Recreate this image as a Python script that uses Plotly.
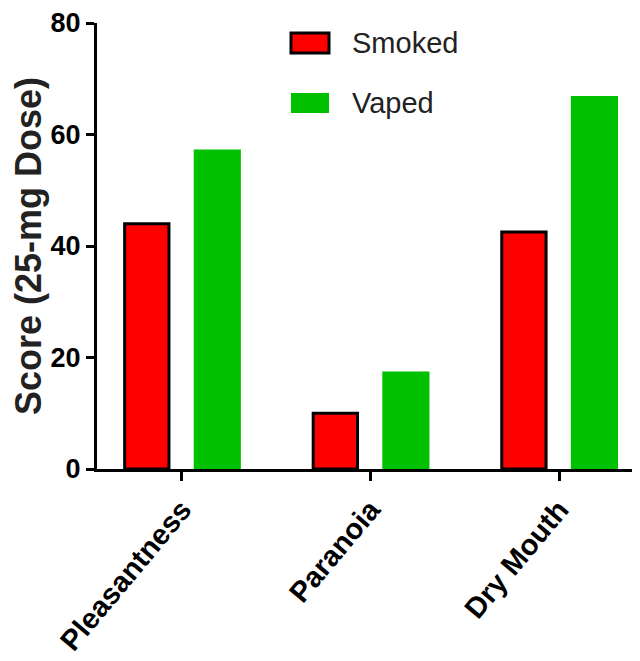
import plotly.graph_objects as go

categories = ["Pleasantness", "Paranoia", "Dry Mouth"]
smoked = [44.0, 10.0, 42.5]
vaped = [57.3, 17.5, 66.9]
y_ticks = [0, 20, 40, 60, 80]
series_names = ["Smoked", "Vaped"]

RED = "#ff0000"
GREEN = "#00c000"
FONT = "Liberation Sans, Arial, sans-serif"

# page body adds an 8px offset; plot area on screen: x 97..648, y 23..469
L, T, B = 89, 15, 200
PW = 640 - L
PH = 661 - T - B

def px(sx):
    return (sx - (L + 8)) / PW

def py(sy):
    return ((T + 8 + PH) - sy) / PH

fig = go.Figure()
fig.add_trace(go.Bar(
    x=categories, y=smoked, name=series_names[0],
    marker=dict(color=RED, line=dict(color="black", width=3)),
    width=0.235, offset=-0.3035, showlegend=False,
))
fig.add_trace(go.Bar(
    x=categories, y=vaped, name=series_names[1],
    marker=dict(color=GREEN, line=dict(color=GREEN, width=0)),
    width=0.25, offset=0.063, showlegend=False,
))

# manual legend (markers + labels)
legend_rows = [(series_names[0], RED, "black", 43), (series_names[1], GREEN, GREEN, 103)]
for name, fill, edge, yc in legend_rows:
    fig.add_shape(type="rect", xref="paper", yref="paper",
                  x0=px(291), x1=px(329),
                  y0=py(yc + 10), y1=py(yc - 10),
                  fillcolor=fill, line=dict(color=edge, width=3 if edge == "black" else 0))
    fig.add_annotation(text=name, xref="paper", yref="paper",
                       x=px(350), y=py(yc),
                       xanchor="left", yanchor="middle", showarrow=False,
                       font=dict(family=FONT, size=29, color="#222"))

fig.update_layout(
    width=640, height=661,
    margin=dict(l=L, r=0, t=T, b=B),
    plot_bgcolor="white", paper_bgcolor="white",
    barmode="overlay",
    font=dict(family=FONT, color="black"),
)
fig.update_xaxes(
    range=[-0.45, 2.472], showline=True, linecolor="black", linewidth=3,
    ticks="outside", ticklen=9, tickwidth=3, tickcolor="black",
    tickangle=-50, showgrid=False, zeroline=False, automargin=False,
    tickfont=dict(family=FONT, size=29, color="black", weight="bold"),
)
fig.update_yaxes(
    range=[0, 80], tickvals=y_ticks, showline=True, linecolor="black", linewidth=3,
    ticks="outside", ticklen=8, tickwidth=3, tickcolor="black",
    showgrid=False, zeroline=False, automargin=False,
    tickfont=dict(family=FONT, size=27, color="black", weight="bold"),
    title=dict(text="Score (25-mg Dose)", standoff=8,
               font=dict(family=FONT, size=36, color="#222", weight="bold")),
)

fig.write_html("out.html")
